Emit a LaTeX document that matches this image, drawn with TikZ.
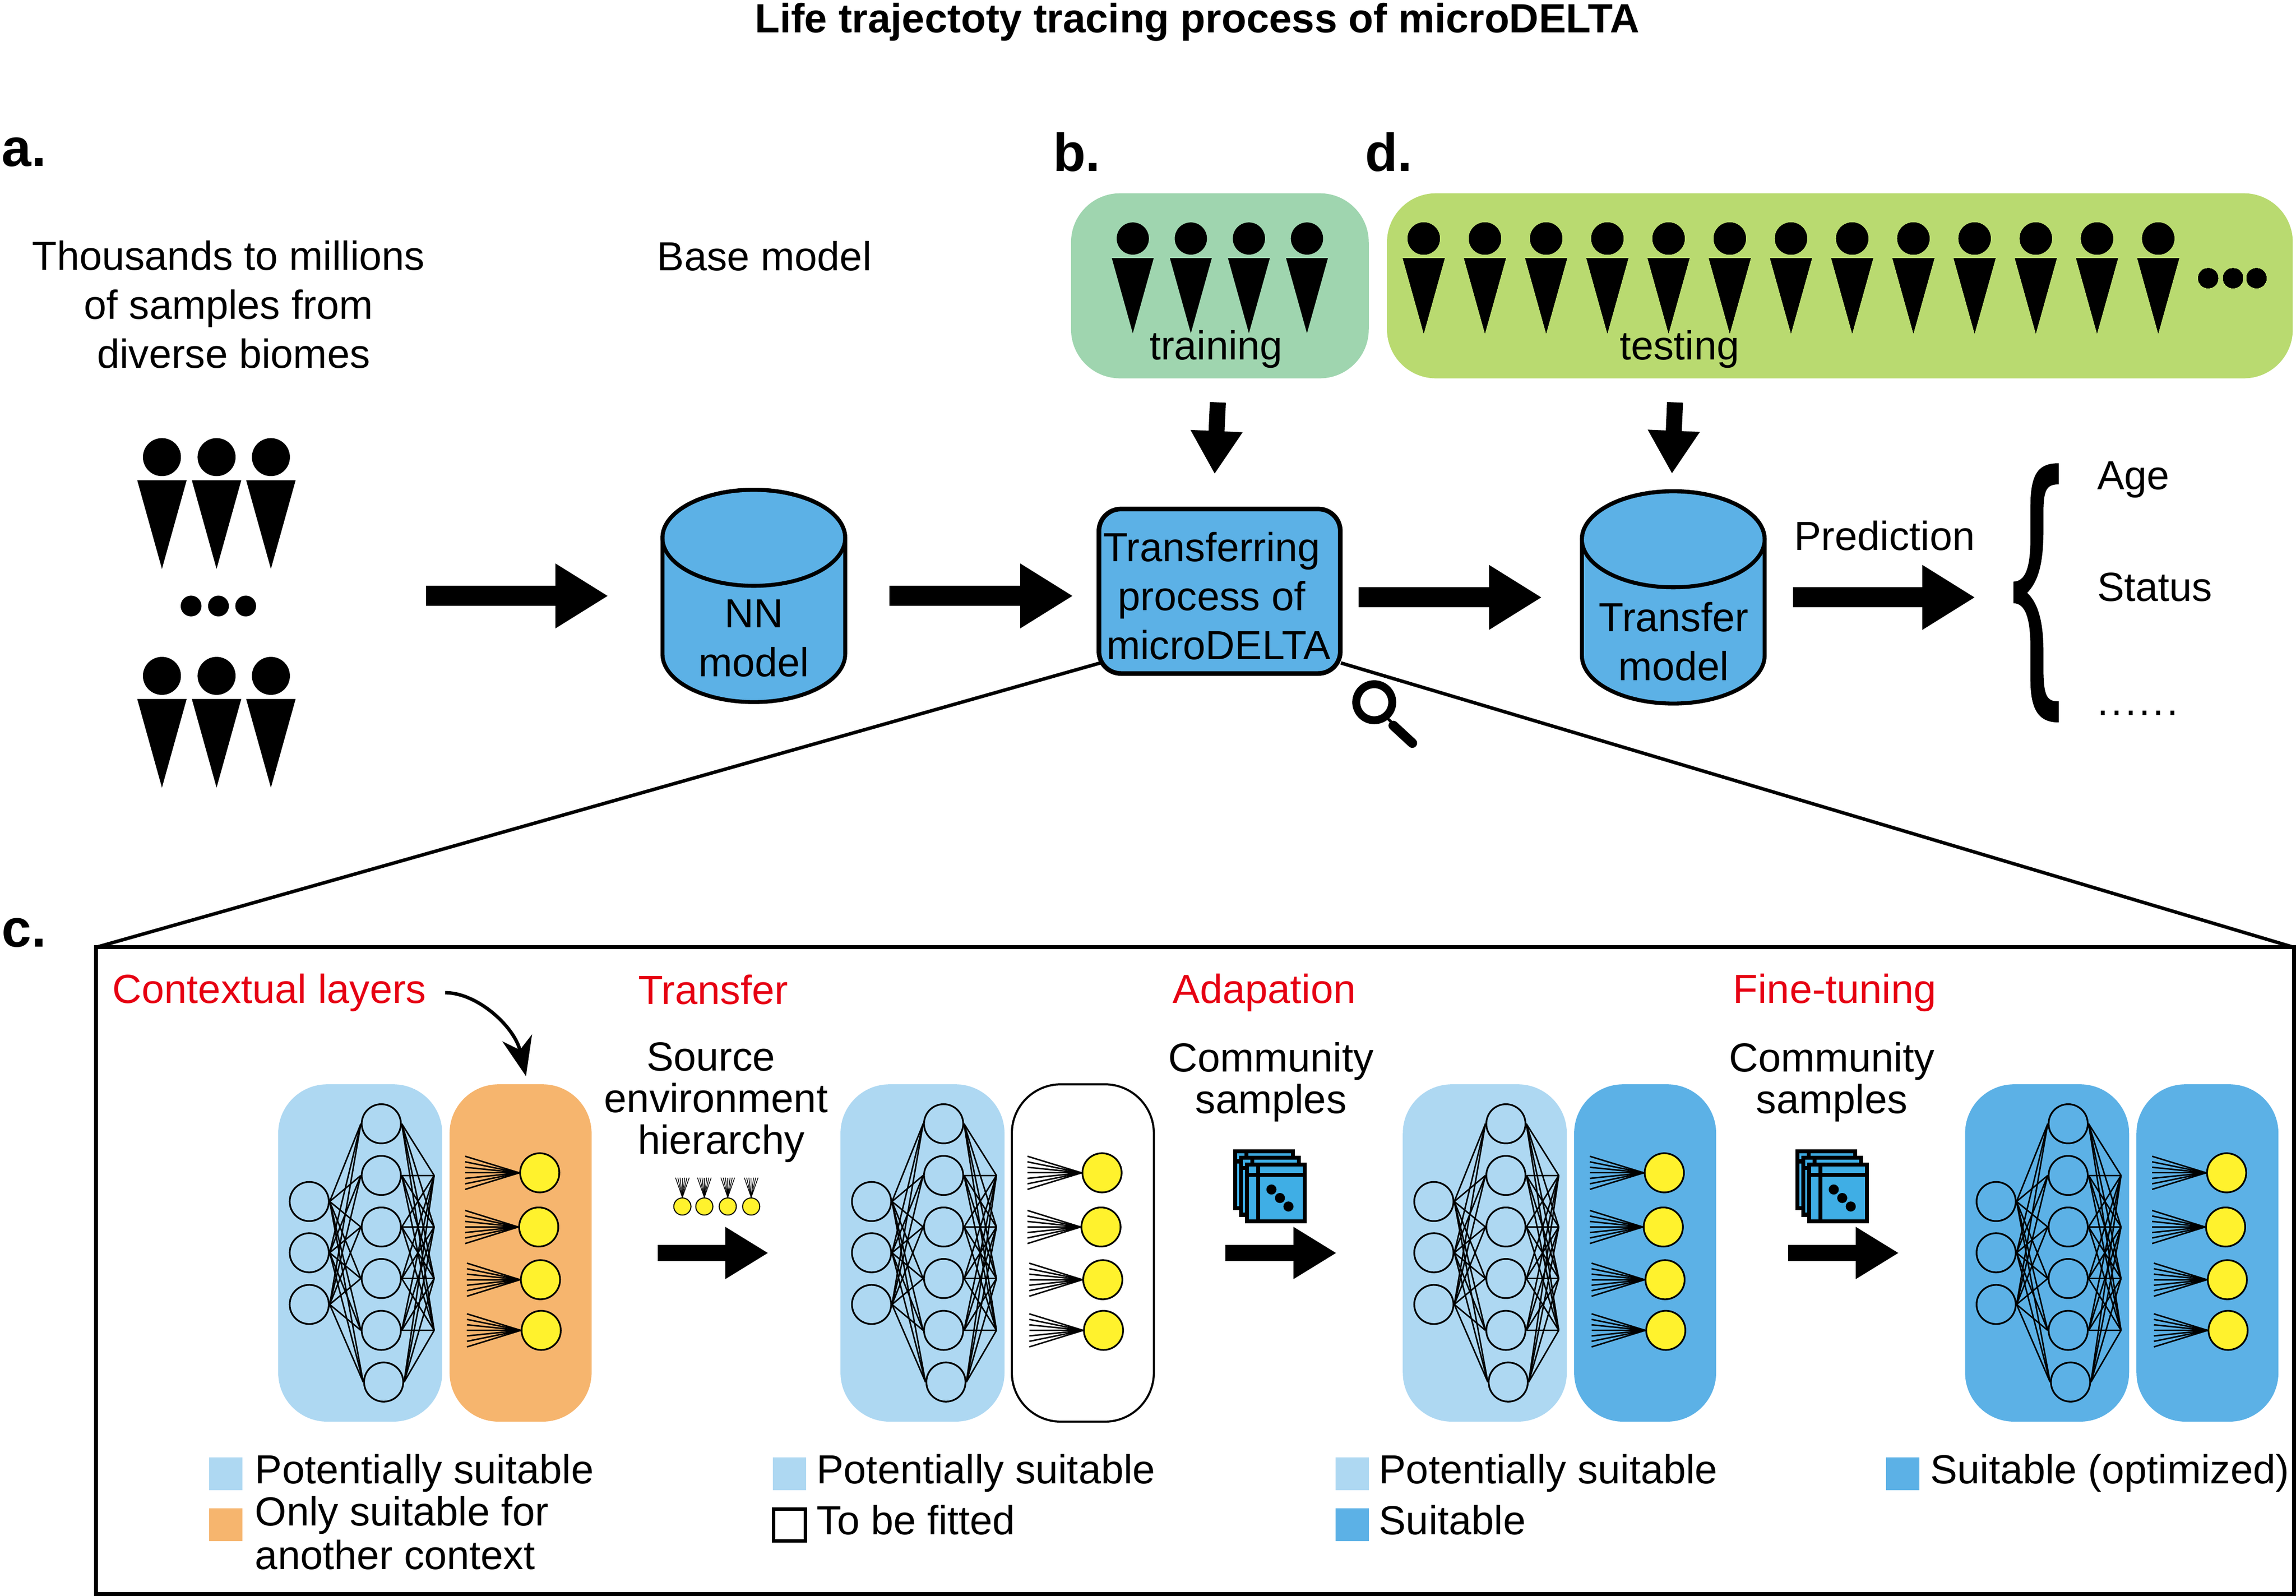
\documentclass[tikz,border=0pt]{standalone}
\usepackage{fontspec}
\setmainfont{Liberation Sans}
\usetikzlibrary{arrows.meta}

\definecolor{lightblue}{HTML}{AED8F2}
\definecolor{modelblue}{HTML}{5CB1E6}
\definecolor{iconblue}{HTML}{3FAEE5}
\definecolor{contextorange}{HTML}{F6B56E}
\definecolor{trainfill}{HTML}{9FD5AF}
\definecolor{testfill}{HTML}{B9DA70}
\definecolor{neuronyellow}{HTML}{FFF22D}
\definecolor{stepred}{HTML}{E60012}

% one sample: head at (x,y), third argument scales it
\newcommand{\sampleman}[3]{
  \begin{scope}[shift={(#1,#2)},scale=#3]
    \fill (0,0) circle [radius=11];
    \fill (-14.3,13.4) -- (14.3,13.4) -- (0,64.7) -- cycle;
  \end{scope}
}

% model drum round a centre
\newcommand{\drum}[2]{
  \begin{scope}[shift={(#1,#2)}]
    \draw [fill=modelblue, line width=2.3pt] (-62.4,-39.7) -- (-62.4,39.7)
      arc [start angle=180, end angle=0, x radius=62.4, y radius=32.8]
      -- (62.4,-39.7) arc [start angle=0, end angle=-180, x radius=62.4, y radius=32.8] -- cycle;
    \draw [line width=2.3pt] (0,-39.7) ellipse [x radius=62.4, y radius=32.8];
  \end{scope}
}

% network panel: prefix, x offset, colour of the left part, style of the right part
\newcommand{\nnpanel}[4]{
  \begin{scope}[shift={(#2,0)}]
    \node [panel, fill=#3, minimum width=3.35cm] at (246,855.75) (#1left) {};
    \node [panel, #4, minimum width=2.9cm] at (355.5,855.75) (#1right) {};
    \foreach \i/\y in {1/820.6,2/855.6,3/890.9}
      \node [neuron] at (211.2,\y) (#1in\i) {};
    \foreach \j/\x/\y in {1/260.4/767.5,2/260.4/802.8,3/260.4/838,4/260.4/873.2,5/260.4/908.6,6/262/943.9}
      \node [neuron] at (\x,\y) (#1mid\j) {};
    \foreach \k/\y in {1/802.8,2/838,3/873.2,4/908.6}
      \coordinate (#1out\k) at (296.5,\y);
    \foreach \i in {1,2,3}
      \foreach \j in {1,...,6}
        \draw [wire] (#1in\i.east) -- (#1mid\j.west);
    \foreach \j in {1,...,6}
      \foreach \k in {1,...,4}
        \draw [wire] (#1mid\j.east) -- (#1out\k);
    \foreach \k/\x/\y/\l in {1/368.6/801/317.7,2/367.9/838/317.7,3/369.1/874/318.9,4/369.6/908.6/318.9} {
      \node [neuron, fill=neuronyellow] at (\x,\y) (#1yel\k) {};
      \foreach \d in {-11.3,-7.5,-3.8,0,3.8,7.5,11.3}
        \draw [wire] (#1yel\k.west) -- (\l,\y+\d);
    }
  \end{scope}
}

% stack of sample sheets
\newcommand{\sheets}[1]{
  \begin{scope}[shift={(#1,0)}]
    \foreach \d in {8,4,0} {
      \begin{scope}[shift={(-\d,-1.14*\d)}]
        \draw [sheet] (851.5,795.3) rectangle (891,834.2);
        \draw [sheet] (859.2,795.3) -- (859.2,834.2);
        \draw [sheet] (851.5,802.3) -- (891,802.3);
      \end{scope}
    }
    \foreach \x/\y in {868.3/812.4,874.1/818.2,879.9/824}
      \fill (\x,\y) circle [radius=3.45];
  \end{scope}
}

\begin{document}
\begin{tikzpicture}[x=0.0299cm,y=-0.0299cm]
    \tikzstyle{txt}=[font=\fontsize{23.6}{28.5}\selectfont, inner sep=0pt, align=center]
    \tikzstyle{steptxt}=[txt, font=\fontsize{23.6}{24.2}\selectfont]
    \tikzstyle{legendtxt}=[txt, anchor=west, align=left, font=\fontsize{23.6}{25.5}\selectfont]
    \tikzstyle{redtxt}=[txt, text=stepred]
    \tikzstyle{letter}=[font=\fontsize{31}{34}\bfseries\selectfont, inner sep=0pt, anchor=west]
    \tikzstyle{panel}=[rectangle, rounded corners=1cm, minimum height=6.89cm, inner sep=0pt]
    \tikzstyle{group}=[rectangle, rounded corners=1cm, minimum height=3.78cm, inner sep=0pt]
    \tikzstyle{neuron}=[circle, draw, line width=1pt, minimum size=0.8cm, inner sep=0pt]
    \tikzstyle{wire}=[line width=0.85pt]
    \tikzstyle{sheet}=[draw, fill=iconblue, line width=2.3pt]
    \tikzstyle{model}=[rectangle, minimum width=3.73cm, minimum height=4.33cm, inner sep=0pt]
    \tikzstyle{bigarrow}=[line width=11.7pt, -{Triangle[length=1.08cm,width=1.245cm]}]
    \tikzstyle{midarrow}=[line width=9.3pt, -{Triangle[length=0.88cm,width=1cm]}]
    \tikzstyle{swatch}=[rectangle, minimum width=0.68cm, minimum height=0.67cm, inner sep=0pt]
    \useasboundingbox (0,0) rectangle (1568,1090);

    \node [txt, font=\fontsize{23.7}{28}\bfseries\selectfont] at (817.5,15) (title) {Life trajectoty tracing process of microDELTA};
    \node [letter] at (1,104) (leta) {a.};
    \node [letter] at (719,104) (letb) {b.};
    \node [letter] at (932,104) (letd) {d.};
    \node [letter] at (1,637) (letc) {c.};

    % top row
    \node [txt] at (156,208) (thousands) {Thousands to millions\\of samples from\\\hspace*{6pt}diverse biomes};
    \node [txt] at (522,175) (base) {Base model};

    \foreach \x in {110.6,147.9,185} {
      \sampleman{\x}{312.2}{1.18}
      \sampleman{\x}{461.6}{1.18}
    }
    \foreach \x in {130.5,149.2,167.8}
      \fill (\x,413.9) circle [radius=7.1];
    \coordinate (samples) at (202,407);

    \drum{514.8}{407}
    \node [model] at (514.8,407) (nn) {};
    \node [txt] at (514.8,436) (nnlabel) {NN\\model};

    \node [group, fill=trainfill, minimum width=6.08cm] at (833.1,195.2) (training) {};
    \node [group, fill=testfill, minimum width=18.5cm] at (1256.5,195.2) (testing) {};
    \foreach \i in {0,1,2,3}
      \sampleman{773.6+39.65*\i}{162.9}{1}
    \foreach \i in {0,...,12}
      \sampleman{972.3+41.8*\i}{162.9}{1}
    \foreach \x in {1508,1525,1541}
      \fill (\x,190) circle [radius=6.8];
    \node [txt] at (830.5,238.5) (traintxt) {training};
    \node [txt] at (1147,238.5) (testtxt) {testing};

    \node [rectangle, draw, fill=modelblue, line width=2.7pt, rounded corners=0.45cm, minimum width=4.93cm, minimum height=3.36cm, inner sep=0pt] at (832.9,403.8) (trans) {};
    \node [txt] at (827.5,407) (transtxt) {Transferring\\process of\\\hspace*{8pt}microDELTA};

    \drum{1142.7}{408}
    \node [model] at (1142.7,408) (tm) {};
    \node [txt] at (1143,438) (tmlabel) {Transfer\\model};
    \node [txt] at (1287,366) (pred) {Prediction};

    \coordinate (trainin) at (831.7,274.8);
    \coordinate (trainout) at (829.5,323.8);
    \coordinate (testin) at (1143.9,274.8);
    \coordinate (testout) at (1141.8,323.6);
    \coordinate (bracetip) at (1375,408);
    \draw [midarrow] (trainin) -- (trainout);
    \draw [midarrow] (testin) -- (testout);

    \draw [bigarrow, shorten <=2.66cm, shorten >=1.1cm] (samples) -- (nn.west);
    \draw [bigarrow, shorten <=0.9cm, shorten >=0.48cm] (nn.east) -- (nn.east -| trans.west);
    \draw [bigarrow, shorten <=0.33cm, shorten >=0.81cm] (tm.west -| trans.east) -- (tm.west);
    \draw [bigarrow, shorten <=0.57cm, shorten >=0.78cm] (tm.east) -- (bracetip);

    \fill (1406,316.4) .. controls (1393,316.4) and (1386.6,322) .. (1386.6,346)
      -- (1386.6,368) .. controls (1386.6,388) and (1383,397.2) .. (1375,397.2)
      -- (1375,412) .. controls (1383,412) and (1386.6,422) .. (1386.6,442)
      -- (1386.6,464) .. controls (1386.6,486) and (1393,493.4) .. (1406,493.4)
      -- (1406,479) .. controls (1398,479) and (1395.5,476) .. (1395.5,456)
      -- (1395.5,445) .. controls (1395.5,425) and (1392,412) .. (1384.4,404.9)
      .. controls (1392,397) and (1395.5,385) .. (1395.5,362)
      -- (1395.5,350) .. controls (1395.5,334) and (1398,330.8) .. (1406,330.8) -- cycle;
    \node [txt, anchor=west] at (1432,327.5) (age) {Age};
    \node [txt, anchor=west] at (1432,401) (status) {Status};
    \node [txt, anchor=west] at (1432,487) (more) {\addfontfeature{LetterSpace=6.5}......};

    % magnifier
    \draw [line width=4.6pt] (938.5,479.6) circle [radius=12.3];
    \draw [line width=1.6pt] (946,489) -- (950.8,493.8);
    \draw [line width=5.6pt, line cap=round] (951.5,495.5) -- (964.5,507.5);

    % zoomed part
    \coordinate (frameleft) at (65.6,647);
    \coordinate (frameright) at (1566.5,647);
    \draw [line width=2.3pt] (65.6,647) rectangle (1566.5,1088.7);
    \draw [line width=2pt] (trans.south west) ++(2.6,-8.8) -- (frameleft);
    \draw [line width=2pt] (trans.south east) ++(-1.2,-8.8) -- (frameright);

    \node [redtxt] at (184,678) (ctx) {Contextual layers};
    \node [redtxt] at (487,676) (redtransfer) {Transfer};
    \node [redtxt] at (863.5,678) (redadapt) {Adapation};
    \node [redtxt] at (1253,678) (redfine) {Fine-tuning};
    \node [steptxt] at (489,753) (source) {Source\hspace*{6pt}\\environment\\\hspace*{6pt}hierarchy};
    \node [steptxt] at (868,739) (comm1) {Community\\samples};
    \node [steptxt] at (1251,739) (comm2) {Community\\samples};

    \nnpanel{a}{0}{lightblue}{fill=contextorange}
    \nnpanel{b}{384}{lightblue}{draw, line width=1.2pt}
    \nnpanel{c}{768}{lightblue}{fill=modelblue}
    \nnpanel{d}{1152}{modelblue}{fill=modelblue}

    \coordinate (ctxtip) at (359.2,735);
    \draw [line width=2pt, -{Stealth[length=0.8cm,width=0.62cm,inset=0.25cm]}, shorten <=0.38cm] (ctx.east) to [out=0,in=103] (ctxtip);

    \foreach \x/\l in {466/a,481/b,497/c,513/d} {
      \node [circle, draw, fill=neuronyellow, line width=0.6pt, minimum size=0.35cm, inner sep=0pt] at (\x,824) (small\l) {};
      \foreach \d in {-4.7,-3.1,-1.6,0,1.6,3.1,4.7}
        \draw [line width=0.4pt] (small\l.north) -- (\x+\d,804.3);
    }
    \sheets{0}
    \sheets{384}

    \draw [midarrow, shorten <=1.345cm, shorten >=1.465cm] (aright.east) -- (bleft.west);
    \draw [midarrow, shorten <=1.435cm, shorten >=1.345cm] (bright.east) -- (cleft.west);
    \draw [midarrow, shorten <=1.465cm, shorten >=1.345cm] (cright.east) -- (dleft.west);

    % legends
    \node [swatch, fill=lightblue] at (154.3,1006.7) (lega1) {};
    \node [swatch, fill=contextorange] at (154.3,1041.5) (lega2) {};
    \node [legendtxt] at (174,1006) (legatxt1) {Potentially suitable};
    \node [legendtxt] at (174,1047) (legatxt2) {Only suitable for\\another context};
    \node [swatch, fill=lightblue] at (539,1006.7) (legb1) {};
    \node [swatch, draw, line width=2pt, minimum width=0.65cm, minimum height=0.65cm] at (539,1041.5) (legb2) {};
    \node [legendtxt] at (557.5,1006) (legbtxt1) {Potentially suitable};
    \node [legendtxt] at (557.5,1038) (legbtxt2) {To be fitted};
    \node [swatch, fill=lightblue] at (923.5,1006.7) (legc1) {};
    \node [swatch, fill=modelblue] at (923.5,1041.5) (legc2) {};
    \node [legendtxt] at (941.5,1006) (legctxt1) {Potentially suitable};
    \node [legendtxt] at (941.5,1038) (legctxt2) {Suitable};
    \node [swatch, fill=modelblue] at (1299.5,1006.7) (legd1) {};
    \node [legendtxt] at (1318,1006) (legdtxt1) {Suitable (optimized)};
\end{tikzpicture}
\end{document}
